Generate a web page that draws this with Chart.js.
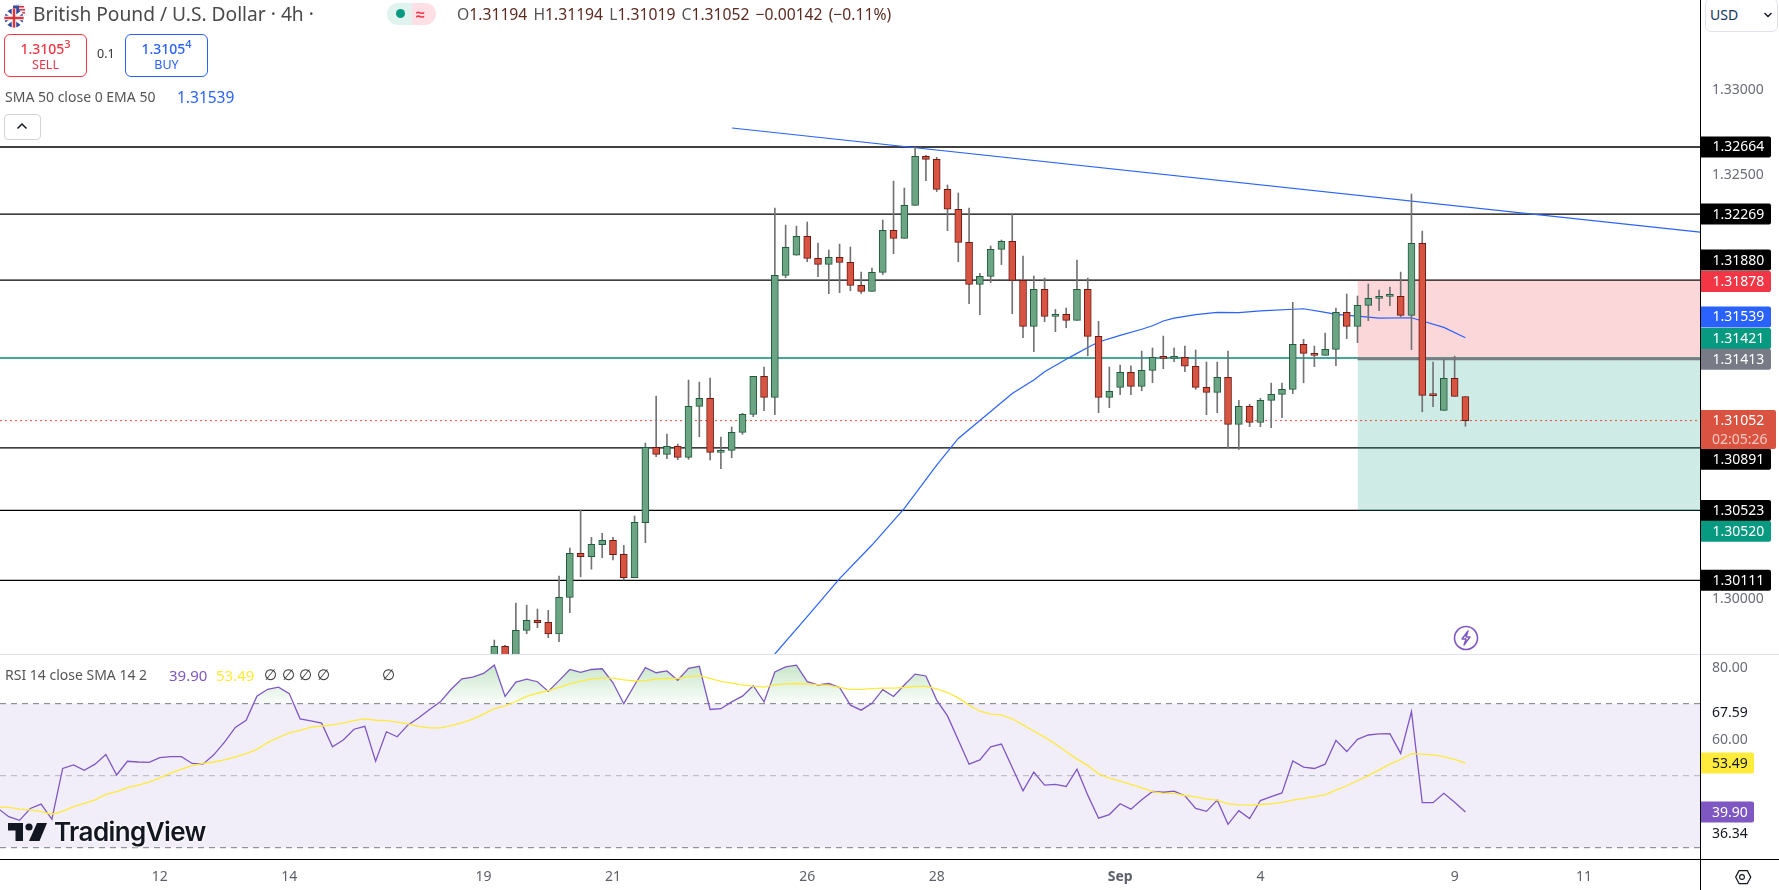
<!DOCTYPE html>
<html>
<head>
<meta charset="utf-8">
<title>GBP/USD 4h</title>
<script src="https://cdn.jsdelivr.net/npm/chart.js@4"></script>
<style>
  html, body { margin: 0; padding: 0; background: #fff; width: 1779px; height: 890px; overflow: hidden; }
  body { position: relative; font-family: "Noto Sans", sans-serif; color: #131722; }
  canvas { position: absolute; left: 0; }
  .abs { position: absolute; white-space: nowrap; }
  .order { width: 81px; height: 41px; border: 1px solid; border-radius: 6px; text-align: center; background: #fff; }
  .order b { display: block; font-weight: 500; font-size: 14px; line-height: 17px; margin-top: 5px; }
  .order sup { font-size: 11px; line-height: 0; }
  .order span { display: block; font-size: 12.5px; line-height: 15px; }
  .null { font-family: "DejaVu Sans", sans-serif; font-size: 15px; line-height: 22px; color: #333; top: 664px; }
</style>
</head>
<body>
<canvas id="priceChart" width="1779" height="654" style="top:0"></canvas>
<canvas id="rsiChart" width="1779" height="236" style="top:654px"></canvas>

<div class="abs" style="left:0;top:654px;width:1779px;height:1px;background:#e0e3eb"></div>
<div class="abs" style="left:0;top:859px;width:1779px;height:1px;background:#000"></div>
<div class="abs" style="left:1700px;top:0;width:1px;height:890px;background:#000"></div>

<svg class="abs" style="left:3px;top:3px" width="26" height="26" viewBox="0 0 26 26">
  <circle cx="16" cy="7" r="6.5" fill="#e8e8f0"/>
  <path d="M11 3h10v1.6H11zM10 6h12v1.6H10zM10 9h12v1.6H10z" fill="#d9363e"/>
  <path d="M10 2.5h6v5h-6z" fill="#3a4f9c"/>
  <circle cx="11" cy="15" r="9.5" fill="#2f4a9c"/>
  <path d="M3 9l16 12M19 9L3 21" stroke="#fff" stroke-width="3"/>
  <path d="M11 5.5v19M1.5 15h19" stroke="#fff" stroke-width="4.5"/>
  <path d="M11 5.5v19M1.5 15h19" stroke="#d9363e" stroke-width="2.5"/>
</svg>
<div class="abs" id="title" style="left:33px;top:2px;font-size:19.2px;line-height:24px;color:#4a4a4a">British Pound / U.S. Dollar · 4h ·</div>

<div class="abs" style="left:387px;top:3px;width:25px;height:22px;background:#e0f3ef;border-radius:11px 0 0 11px"></div>
<div class="abs" style="left:412px;top:3px;width:24px;height:22px;background:#fde0e6;border-radius:0 11px 11px 0"></div>
<div class="abs" style="left:396px;top:9px;width:9px;height:9px;background:#089981;border-radius:50%"></div>
<div class="abs" style="left:416px;top:2px;font-size:16px;line-height:24px;font-weight:700;color:#f23645">≈</div>

<div class="abs" id="ohlc" style="left:457px;top:3px;font-size:15.7px;line-height:22px;color:#5b2a20;word-spacing:2px">
  <span style="color:#555">O</span>1.31194 <span style="color:#555">H</span>1.31194 <span style="color:#555">L</span>1.31019 <span style="color:#555">C</span>1.31052 −0.00142 (−0.11%)
</div>

<div class="abs order" style="left:4px;top:34px;border-color:#f23645;color:#f23645"><b>1.3105<sup>3</sup></b><span>SELL</span></div>
<div class="abs" style="left:97px;top:44px;font-size:12.5px;line-height:20px;color:#333">0.1</div>
<div class="abs order" style="left:125px;top:34px;border-color:#2962ff;color:#2962ff"><b>1.3105<sup>4</sup></b><span>BUY</span></div>

<div class="abs" style="left:5px;top:86px;font-size:14px;line-height:22px;color:#555">SMA 50 close 0 EMA 50</div>
<div class="abs" style="left:177px;top:86px;font-size:15.5px;line-height:22px;color:#2962ff">1.31539</div>

<div class="abs" style="left:4px;top:114px;width:35px;height:24px;border:1px solid #d1d4dc;border-radius:4px;background:#fff"></div>
<svg class="abs" style="left:15px;top:121px" width="14" height="10" viewBox="0 0 14 10"><path d="M2.5 7.5L7 3l4.5 4.5" fill="none" stroke="#131722" stroke-width="1.5"/></svg>

<div class="abs" style="left:1705px;top:-2px;width:71px;height:32px;border:1px solid #e0e3eb;border-radius:6px;background:#fff"></div>
<div class="abs" style="left:1710px;top:4px;font-size:14px;line-height:22px;color:#14335c">USD</div>
<svg class="abs" style="left:1763px;top:11px" width="10" height="8" viewBox="0 0 10 8"><path d="M1.5 2L5 5.5 8.5 2" fill="none" stroke="#131722" stroke-width="1.4"/></svg>

<svg class="abs" style="left:1452px;top:624px" width="28" height="28" viewBox="0 0 28 28">
  <circle cx="14" cy="14" r="11.5" fill="#fff" stroke="#7e57c2" stroke-width="1.6"/>
  <path d="M16 7l-6 8h4l-2 6 6-8h-4z" fill="none" stroke="#7e57c2" stroke-width="1.4" stroke-linejoin="round"/>
</svg>

<div class="abs" style="left:5px;top:664px;font-size:14px;line-height:22px;color:#555">RSI 14 close SMA 14 2</div>
<div class="abs" style="left:169px;top:664px;font-size:15px;line-height:22px;color:#7e57c2">39.90</div>
<div class="abs" style="left:216px;top:664px;font-size:15px;line-height:22px;color:#fdea3c">53.49</div>
<div class="abs null" style="left:264px">∅</div>
<div class="abs null" style="left:282px">∅</div>
<div class="abs null" style="left:299px">∅</div>
<div class="abs null" style="left:317px">∅</div>
<div class="abs null" style="left:382px">∅</div>

<svg class="abs" style="left:8px;top:822px" width="39" height="20" viewBox="0 0 39 20">
  <path d="M0 1h15v18H7.5V8.5H0z" fill="#131722"/>
  <circle cx="21" cy="5" r="3.6" fill="#131722"/>
  <path d="M29 1h10l-7.5 18H21z" fill="#131722"/>
</svg>
<div class="abs" style="left:54px;top:815px;font-family:Inter,sans-serif;font-weight:600;font-size:26px;line-height:34px;letter-spacing:-0.6px;color:#131722;text-shadow:0 0 3px #fff,0 0 3px #fff">TradingView</div>

<svg class="abs" style="left:1728px;top:863px" width="28" height="28" viewBox="0 0 28 28">
  <path d="M8 14l3.2-6h7.6l3.2 6-3.2 6h-7.6z" transform="translate(-1 -1) scale(1.08)" fill="none" stroke="#131722" stroke-width="1.1"/>
  <circle cx="14" cy="14" r="2.4" fill="none" stroke="#131722" stroke-width="1.1"/>
</svg>

<script>
  // x positions are bar numbers on the 4h time scale, RSI starts at bar 0
  const firstCandleBar = 46;
  const barRange = [0.19, 157.74];

  const opens = [1.29602,1.29722,1.29602,1.29816,1.29875,1.29863,1.29796,1.30011,1.30270,1.30250,1.30321,1.30346,1.30264,1.30126,1.30450,
    1.30894,1.30853,1.30900,1.30835,1.31136,1.31183,1.30865,1.30877,1.30983,1.31089,1.31313,1.31189,1.31908,1.32026,1.32137,
    1.32008,1.31972,1.32014,1.31984,1.31849,1.31813,1.31925,1.32173,1.32126,1.32320,1.32609,1.32591,1.32414,1.32297,1.32102,
    1.31855,1.31902,1.32061,1.32108,1.31878,1.31607,1.31825,1.31666,1.31678,1.31643,1.31825,1.31548,1.31189,1.31248,1.31336,
    1.31254,1.31348,1.31425,1.31419,1.31425,1.31372,1.31248,1.31218,1.31307,1.31030,1.31136,1.31042,1.31171,1.31207,1.31236,
    1.31501,1.31448,1.31436,1.31472,1.31690,1.31607,1.31731,1.31772,1.31784,1.31784,1.31672,1.32096,1.31201,1.31112,1.31301,1.31194];
  const highs = [1.29759,1.29728,1.29977,1.29965,1.29942,1.29934,1.30136,1.30301,1.30525,1.30364,1.30388,1.30364,1.30317,1.30490,1.30920,
    1.31197,1.30973,1.30914,1.31291,1.31279,1.31303,1.30955,1.31014,1.31095,1.31313,1.31368,1.32304,1.32204,1.32198,1.32222,
    1.32098,1.32057,1.32092,1.32075,1.31927,1.31951,1.32234,1.32463,1.32422,1.32662,1.32615,1.32603,1.32440,1.32393,1.32304,
    1.31920,1.32081,1.32116,1.32267,1.32022,1.31904,1.31892,1.31707,1.31715,1.31998,1.31892,1.31637,1.31368,1.31379,1.31374,
    1.31462,1.31480,1.31550,1.31480,1.31491,1.31468,1.31397,1.31397,1.31462,1.31171,1.31148,1.31183,1.31273,1.31273,1.31749,
    1.31531,1.31491,1.31568,1.31715,1.31798,1.31786,1.31857,1.31821,1.31839,1.31927,1.32387,1.32169,1.31397,1.31413,1.31432,1.31194];
  const lows = [1.29563,1.29563,1.29563,1.29796,1.29832,1.29773,1.29749,1.29920,1.30132,1.30177,1.30244,1.30232,1.30113,1.30126,1.30333,
    1.30839,1.30828,1.30822,1.30824,1.30957,1.30820,1.30769,1.30833,1.30971,1.31075,1.31110,1.31087,1.31894,1.32026,1.31988,
    1.31900,1.31800,1.31806,1.31817,1.31802,1.31813,1.31912,1.32035,1.32126,1.32320,1.32465,1.32401,1.32171,1.31988,1.31741,
    1.31676,1.31865,1.31971,1.31682,1.31540,1.31458,1.31635,1.31576,1.31599,1.31643,1.31434,1.31099,1.31128,1.31205,1.31205,
    1.31228,1.31275,1.31358,1.31399,1.31340,1.31236,1.31087,1.31099,1.30888,1.30882,1.31016,1.31016,1.31010,1.31069,1.31211,
    1.31275,1.31370,1.31436,1.31375,1.31535,1.31511,1.31641,1.31700,1.31729,1.31664,1.31470,1.31104,1.31134,1.31112,1.31195,1.31019];
  const closes = [1.29722,1.29602,1.29816,1.29875,1.29861,1.29796,1.30011,1.30270,1.30250,1.30323,1.30346,1.30262,1.30126,1.30452,1.30894,
    1.30853,1.30900,1.30835,1.31136,1.31183,1.30865,1.30877,1.30983,1.31089,1.31313,1.31189,1.31908,1.32073,1.32137,1.32008,
    1.31972,1.32014,1.31984,1.31849,1.31813,1.31925,1.32173,1.32126,1.32320,1.32609,1.32591,1.32414,1.32297,1.32102,1.31855,
    1.31902,1.32061,1.32108,1.31878,1.31607,1.31825,1.31666,1.31678,1.31643,1.31825,1.31548,1.31189,1.31224,1.31336,1.31254,
    1.31348,1.31425,1.31419,1.31425,1.31372,1.31248,1.31218,1.31307,1.31030,1.31136,1.31042,1.31171,1.31207,1.31236,1.31501,
    1.31448,1.31436,1.31472,1.31690,1.31607,1.31731,1.31772,1.31778,1.31786,1.31672,1.32096,1.31201,1.31199,1.31301,1.31195,1.31052];

  const emaBars = [72,75,78,81,84,87,89,91,94,96,97,99,100,101,102,104,106,107,108,109,111,113,115,117,121,123,124,126,128,131,132,134,136];
  const emaValues = [1.29677,1.29897,1.30121,1.30319,1.30535,1.30790,1.30947,1.31053,1.31212,1.31291,1.31340,1.31413,1.31448,1.31483,1.31515,1.31554,1.31590,1.31611,1.31639,1.31656,1.31676,1.31690,1.31688,1.31698,1.31711,1.31690,1.31678,1.31668,1.31656,1.31658,1.31639,1.31601,1.31540];

  const trendBars = [68.03, 157.74];
  const trendValues = [1.32776, 1.32163];

  const supportLevels = [1.32664, 1.32269, 1.31880, 1.30891, 1.30523, 1.30111];
  const emaCrossLevel = 1.31421;
  const lastClose = 1.31052;
  const positionStartBar = 126;
  const stopLevel = 1.31878;
  const entryLevel = 1.31413;
  const targetLevel = 1.30520;

  const rsiValues = [40.9,38.6,37.6,40.9,42.1,37.9,52.0,53.0,51.5,53.2,
    55.9,50.2,54.0,53.8,53.7,55.0,55.3,55.3,53.4,53.2,
    55.8,59.3,63.4,65.4,72.1,74.0,74.6,72.8,65.8,65.2,
    64.6,58.0,59.9,62.9,63.7,54.0,62.2,60.8,64.1,66.1,
    68.4,70.5,74.0,76.9,77.4,78.4,80.7,72.0,76.0,76.8,
    76.1,73.4,76.4,79.5,78.7,79.5,79.7,75.8,70.0,75.2,
    80.0,78.6,79.1,76.5,79.8,80.4,68.4,68.6,70.5,72.1,
    75.0,70.5,78.8,80.2,80.7,76.1,75.2,75.6,74.5,69.6,
    68.2,70.1,73.9,72.0,75.2,78.2,77.7,71.0,66.6,59.9,
    53.2,54.4,58.0,58.8,52.3,45.8,51.0,47.4,47.6,47.0,
    51.8,44.6,38.2,39.2,42.2,40.7,43.3,45.6,45.4,45.7,
    44.4,40.9,40.1,43.2,36.5,40.3,38.1,43.1,44.2,45.2,
    54.1,52.4,52.0,53.2,59.8,56.7,60.1,61.3,61.6,61.7,
    56.2,67.8,42.5,42.5,45.1,42.6,39.9];
  const rsiSmaValues = [41.3,41.2,40.7,40.5,40.0,39.3,40.1,41.4,42.3,43.3,
    44.8,45.6,46.7,47.4,48.2,49.4,50.7,51.8,52.8,53.4,
    53.8,54.4,55.2,56.1,57.3,59.2,60.6,61.9,62.6,63.5,
    63.8,64.1,64.6,65.3,65.8,65.4,65.3,64.9,64.4,63.7,
    63.3,63.3,63.9,64.7,65.7,67.1,68.6,69.4,70.6,72.0,
    72.9,73.6,74.5,75.5,76.2,76.9,77.1,77.1,76.6,76.3,
    76.4,76.8,77.0,77.0,77.5,77.8,77.0,76.2,75.7,75.2,
    74.9,74.6,75.2,75.5,75.6,75.5,75.3,75.1,74.5,74.0,
    74.0,74.2,74.3,74.3,74.5,74.8,74.8,74.1,73.1,71.6,
    69.6,67.9,67.1,66.9,65.8,64.1,62.4,60.7,58.8,56.7,
    54.6,52.8,50.5,49.3,48.5,47.6,46.6,45.6,45.1,45.1,
    44.5,44.1,43.5,43.2,42.2,41.9,41.8,42.0,42.2,42.6,
    43.2,43.7,44.2,44.7,46.0,47.2,48.6,50.0,51.6,53.2,
    54.5,56.1,56.0,55.8,55.3,54.5,53.49];
  const rsiBandUpper = 70;
  const rsiBandMiddle = 50;
  const rsiBandLower = 30;

  const priceTicks = [1.30000, 1.32500, 1.33000];
  const rsiTicks = [60, 80];
  const timeTickBars = [15, 27, 45, 57, 75, 87, 104, 117, 135, 147];
  const timeTickLabels = ["12", "14", "19", "21", "26", "28", "Sep", "4", "9", "11"];

  const priceTagValues = [1.32664, 1.32269, 1.31880, 1.31878, 1.31539, 1.31421, 1.31413, 1.30891, 1.30523, 1.30520, 1.30111];
  const priceTagColors = ["#000", "#000", "#000", "#f23645", "#2962ff", "#089981", "#787b86", "#000", "#000", "#089981", "#000"];
  const priceTagShifts = [0, 0, -20, 1, -21, -19.5, 0, 11.4, 0, 20.4, 0];
  const rsiTagValues = [53.49, 39.90];
  const rsiTagColors = ["#ffeb3b", "#7e57c2"];
  const rsiTagTextColors = ["#131722", "#fff"];
  const rsiPlainValues = [67.59, 36.34];
  const rsiPlainShifts = [0, 9];

  const labelFont = '14px "Noto Sans", sans-serif';
  const paneWidth = 1700;
  const axisWidth = 79;

  const bar = (i) => firstCandleBar + i;
  const hLine = (value, color, width, extra) => Object.assign({
    type: "line",
    data: [{ x: barRange[0], y: value }, { x: barRange[1], y: value }],
    borderColor: color,
    borderWidth: width,
    pointRadius: 0,
    fill: false
  }, extra || {});
  const boxFill = (from, to, color) => ({
    type: "line",
    data: [{ x: positionStartBar, y: from }, { x: barRange[1], y: from }],
    borderWidth: 0,
    pointRadius: 0,
    backgroundColor: color,
    fill: { value: to }
  });

  function drawTag(ctx, y, w, h, color) {
    ctx.fillStyle = color;
    ctx.beginPath();
    ctx.roundRect(paneWidth, y - h / 2, w, h, [0, 2, 2, 0]);
    ctx.fill();
  }

  const priceTags = {
    id: "priceTags",
    afterDraw(chart) {
      const { ctx, scales: { y } } = chart;
      ctx.save();
      ctx.font = labelFont;
      ctx.textBaseline = "middle";
      priceTagValues.forEach((v, i) => {
        const py = y.getPixelForValue(v) + priceTagShifts[i];
        drawTag(ctx, py, 71, 21, priceTagColors[i]);
        ctx.fillStyle = "#fff";
        ctx.fillText(v.toFixed(5), 1712.5, py + 0.5);
      });
      // last price with the countdown under it
      const last = y.getPixelForValue(lastClose);
      drawTag(ctx, last + 9, 76, 39, "#d95340");
      ctx.fillStyle = "#fff";
      ctx.fillText(lastClose.toFixed(5), 1712.5, last + 0.5);
      ctx.fillStyle = "#f7c9c2";
      ctx.fillText("02:05:26", 1712, last + 19);
      ctx.restore();
    }
  };

  const rsiTags = {
    id: "rsiTags",
    afterDraw(chart) {
      const { ctx, scales: { y } } = chart;
      ctx.save();
      ctx.font = labelFont;
      ctx.textBaseline = "middle";
      rsiPlainValues.forEach((v, i) => {
        ctx.fillStyle = "#131722";
        ctx.fillText(v.toFixed(2), 1712, y.getPixelForValue(v) + rsiPlainShifts[i] + 0.5);
      });
      rsiTagValues.forEach((v, i) => {
        const py = y.getPixelForValue(v);
        drawTag(ctx, py, 54, 21, rsiTagColors[i]);
        ctx.fillStyle = rsiTagTextColors[i];
        ctx.fillText(v.toFixed(2), 1712, py + 0.5);
      });
      ctx.restore();
    }
  };

  const rightAxis = (min, max, ticks, decimals) => ({
    position: "right",
    min: min,
    max: max,
    grid: { display: false, drawTicks: false },
    border: { display: false },
    afterBuildTicks: (scale) => { scale.ticks = ticks.map((v) => ({ value: v })); },
    afterFit: (scale) => {
      scale.width = axisWidth;
      scale.paddingTop = 0;
      scale.paddingBottom = 0;
    },
    ticks: {
      padding: 12,
      color: "#6a6d78",
      font: { family: '"Noto Sans", sans-serif', size: 14 },
      autoSkip: false,
      callback: (v) => Number(v).toFixed(decimals)
    }
  });

  Chart.defaults.animation = false;
  Chart.defaults.devicePixelRatio = 1;

  new Chart(document.getElementById("priceChart"), {
    type: "bar",
    data: {
      datasets: [
        {
          label: "body",
          data: opens.map((o, i) => ({ x: bar(i), y: [o, closes[i]] })),
          grouped: false,
          barThickness: 7,
          minBarLength: 2,
          borderWidth: 1,
          borderSkipped: false,
          backgroundColor: opens.map((o, i) => (closes[i] >= o ? "#6ba583" : "#d75442")),
          borderColor: opens.map((o, i) => (closes[i] >= o ? "#225b3f" : "#6d1a14"))
        },
        {
          label: "wick",
          data: lows.map((l, i) => ({ x: bar(i), y: [l, highs[i]] })),
          grouped: false,
          barThickness: 1,
          backgroundColor: "#737373"
        },
        {
          type: "line",
          label: "EMA 50",
          data: emaBars.map((b, i) => ({ x: b, y: emaValues[i] })),
          borderColor: "#2962ff",
          borderWidth: 1.2,
          pointRadius: 0,
          fill: false
        },
        {
          type: "line",
          label: "trend",
          data: trendBars.map((b, i) => ({ x: b, y: trendValues[i] })),
          borderColor: "#2962ff",
          borderWidth: 1.2,
          pointRadius: 0,
          fill: false
        },
        hLine(lastClose, "#e8503a", 1, { borderDash: [2, 3] }),
        {
          type: "line",
          label: "entry",
          data: [{ x: positionStartBar, y: entryLevel }, { x: barRange[1], y: entryLevel }],
          borderColor: "#787b86",
          borderWidth: 2,
          pointRadius: 0,
          fill: false
        },
        boxFill(stopLevel, entryLevel, "rgba(242,54,69,0.2)"),
        boxFill(entryLevel, targetLevel, "rgba(8,153,129,0.2)"),
        hLine(emaCrossLevel, "#078a74", 1.5),
        ...supportLevels.map((v) => hLine(v, "#000", 1.3))
      ]
    },
    options: {
      responsive: false,
      maintainAspectRatio: false,
      layout: { padding: 0, autoPadding: false },
      plugins: { legend: { display: false }, tooltip: { enabled: false } },
      events: [],
      scales: {
        x: { type: "linear", min: barRange[0], max: barRange[1], offset: false, display: false },
        y: rightAxis(1.29677, 1.3353, priceTicks, 5)
      }
    },
    plugins: [priceTags]
  });

  const rsiCanvas = document.getElementById("rsiChart");
  const overboughtFill = rsiCanvas.getContext("2d").createLinearGradient(0, 8, 0, 49);
  overboughtFill.addColorStop(0, "rgba(76,175,80,0.32)");
  overboughtFill.addColorStop(1, "rgba(76,175,80,0.03)");

  new Chart(rsiCanvas, {
    type: "line",
    data: {
      datasets: [
        {
          label: "RSI SMA",
          data: rsiSmaValues.map((v, i) => ({ x: i, y: v })),
          borderColor: "#fdea3c",
          borderWidth: 1.3,
          pointRadius: 0,
          fill: false
        },
        {
          label: "RSI",
          data: rsiValues.map((v, i) => ({ x: i, y: v })),
          borderColor: "#7e57c2",
          borderWidth: 1.3,
          pointRadius: 0,
          fill: { target: { value: rsiBandUpper }, above: overboughtFill, below: "rgba(0,0,0,0)" }
        },
        hLine(rsiBandUpper, "#787b86", 1, { borderDash: [6, 5] }),
        hLine(rsiBandMiddle, "rgba(120,123,134,0.5)", 1, { borderDash: [6, 5] }),
        hLine(rsiBandLower, "#787b86", 1, { borderDash: [6, 5] }),
        {
          label: "band",
          data: [{ x: barRange[0], y: rsiBandUpper }, { x: barRange[1], y: rsiBandUpper }],
          borderWidth: 0,
          pointRadius: 0,
          backgroundColor: "rgba(126,87,194,0.1)",
          fill: { value: rsiBandLower }
        }
      ]
    },
    options: {
      responsive: false,
      maintainAspectRatio: false,
      layout: { padding: 0, autoPadding: false },
      plugins: { legend: { display: false }, tooltip: { enabled: false } },
      events: [],
      scales: {
        x: {
          type: "linear",
          min: barRange[0],
          max: barRange[1],
          grid: { display: false, drawTicks: false },
          border: { display: false },
          afterBuildTicks: (scale) => { scale.ticks = timeTickBars.map((b) => ({ value: b })); },
          afterFit: (scale) => { scale.height = 31; },
          ticks: {
            autoSkip: false,
            maxRotation: 0,
            padding: 10,
            color: "#5d606b",
            font: (ctx) => ({
              family: '"Noto Sans", sans-serif',
              size: 14,
              weight: ctx.tick && ctx.tick.value === 104 ? "bold" : "normal"
            }),
            callback: (v) => timeTickLabels[timeTickBars.indexOf(v)]
          }
        },
        y: rightAxis(26.86, 83.8, rsiTicks, 2)
      }
    },
    plugins: [rsiTags]
  });
</script>
</body>
</html>
